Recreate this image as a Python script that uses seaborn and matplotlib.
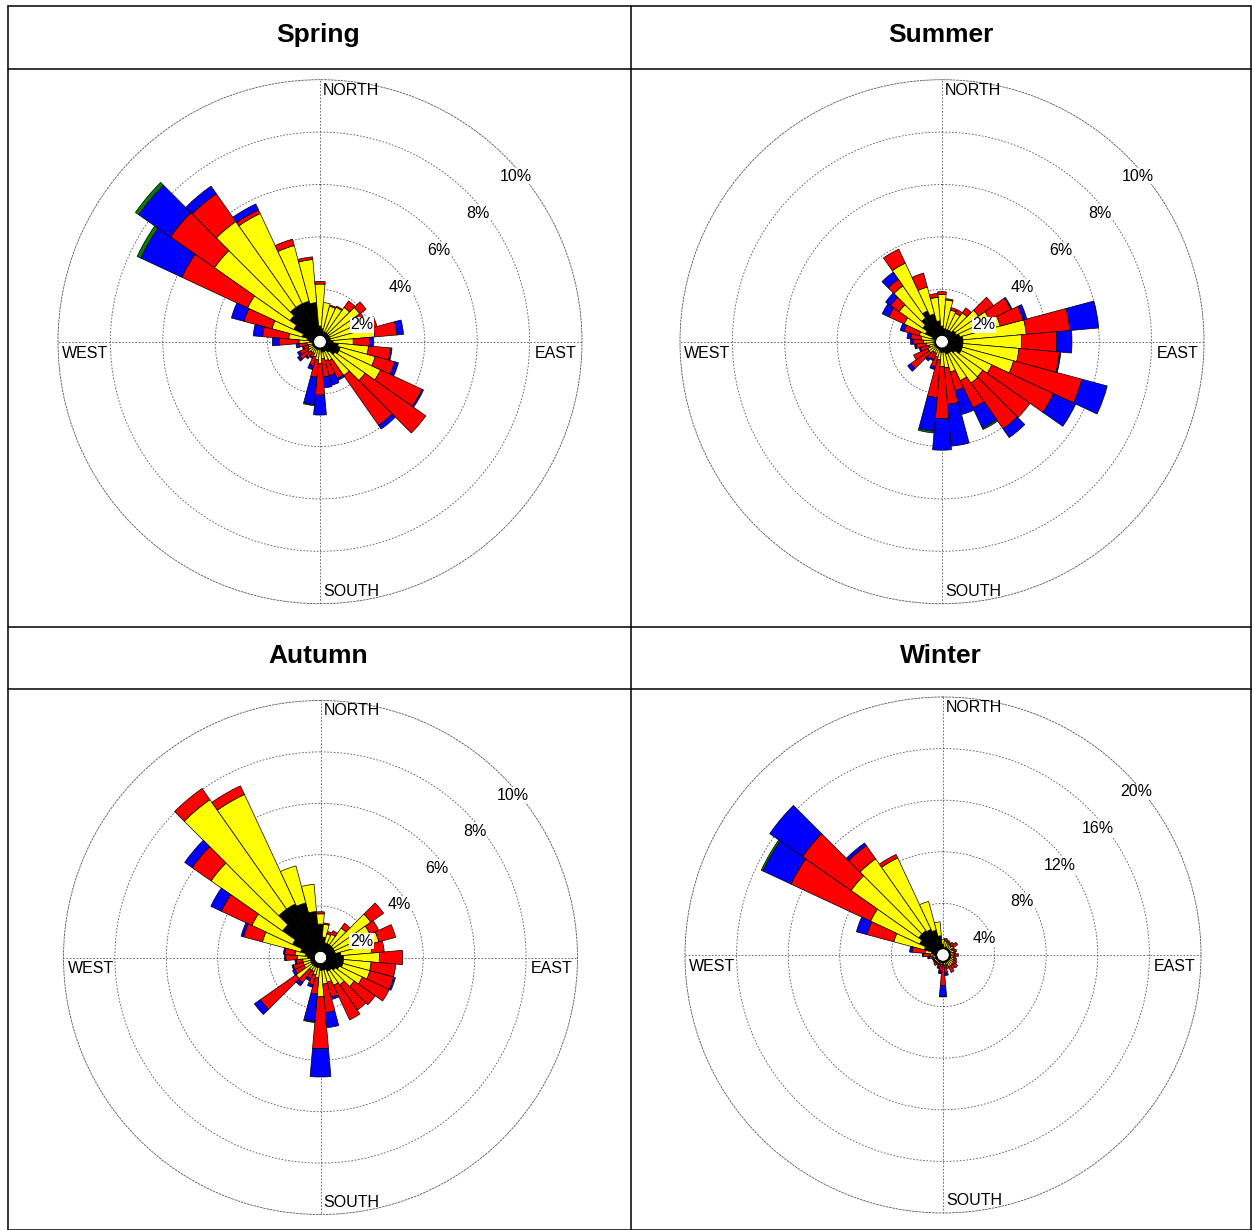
import numpy as np
import matplotlib
matplotlib.use("Agg")
import matplotlib.pyplot as plt
import seaborn as sns
from matplotlib.lines import Line2D
from matplotlib.patches import Circle

# wind directions (degrees, centre of each 10 degree sector)
DIRECTIONS = np.arange(0, 360, 10)

# cumulative frequency (%) up to each speed class, per direction
# class 1 = black, 2 = yellow, 3 = red, 4 = blue, 5 = green
spring_1 = [0.6, 0.5, 0.4, 0.4, 0.4, 0.4, 0.4, 0.4, 0.4, 0.5, 0.7, 0.8, 0.8, 0.7, 0.5, 0.4, 0.4, 0.4,
            0.3, 0.3, 0.3, 0.3, 0.3, 0.3, 0.3, 0.3, 0.3, 0.4, 0.5, 0.7, 1.1, 1.4, 1.6, 1.6, 1.6, 1.5]
spring_2 = [2.2, 1.5, 1.4, 1.45, 1.6, 1.85, 1.7, 1.9, 2.1, 1.27, 1.86, 2.18, 2.55, 2.1, 1.58, 0.8, 0.75, 0.65,
            0.83, 0.7, 0.6, 0.5, 0.5, 0.55, 0.5, 0.45, 0.5, 0.8, 1.2, 1.9, 3.05, 4.92, 5.6, 5.4, 3.8, 3.15]
spring_3 = [2.3, 1.5, 1.45, 1.5, 1.9, 2.15, 1.9, 2.25, 2.95, 1.9, 2.71, 2.95, 4.3, 4.93, 3.9, 1.55, 1.35, 1.35,
            2.04, 1.36, 0.95, 0.65, 0.75, 0.95, 0.85, 0.65, 0.8, 1.57, 2.2, 3.0, 5.82, 6.97, 6.9, 5.55, 4.05, 3.25]
spring_4 = [2.3, 1.5, 1.45, 1.5, 1.9, 2.15, 1.9, 2.25, 3.2, 2.05, 2.76, 3.1, 4.36, 4.93, 4.07, 1.63, 1.72, 1.77,
            2.8, 2.41, 1.1, 0.7, 0.8, 1.05, 0.95, 0.7, 0.92, 1.82, 2.56, 3.5, 7.55, 8.45, 7.25, 5.8, 4.05, 3.25]
spring_5 = [2.3, 1.5, 1.45, 1.5, 1.9, 2.15, 1.9, 2.25, 3.2, 2.05, 2.76, 3.1, 4.36, 4.93, 4.07, 1.63, 1.72, 1.77,
            2.8, 2.45, 1.1, 0.7, 0.8, 1.05, 0.95, 0.7, 0.92, 1.82, 2.56, 3.5, 7.7, 8.6, 7.25, 5.8, 4.05, 3.25]

summer_1 = [0.6, 0.5, 0.5, 0.5, 0.5, 0.6, 0.6, 0.7, 0.8, 0.8, 0.8, 0.8, 0.8, 0.6, 0.5, 0.5, 0.5, 0.4,
            0.4, 0.4, 0.3, 0.3, 0.3, 0.3, 0.3, 0.3, 0.3, 0.3, 0.3, 0.4, 0.7, 0.9, 1.1, 1.3, 1.1, 0.8]
summer_2 = [1.8, 1.6, 1.25, 1.2, 1.35, 1.7, 2.0, 2.3, 3.23, 3.04, 2.95, 2.83, 2.1, 1.9, 1.93, 1.64, 1.2, 1.0,
            0.95, 0.7, 0.6, 0.5, 0.5, 0.6, 0.6, 0.5, 0.6, 0.7, 0.8, 0.9, 1.6, 2.0, 2.6, 3.31, 2.16, 1.7]
summer_3 = [1.91, 1.65, 1.35, 1.35, 1.58, 2.4, 2.9, 3.2, 4.9, 4.38, 4.5, 5.53, 4.7, 4.1, 4.06, 2.79, 1.94, 2.4,
            2.93, 2.14, 1.0, 0.75, 0.8, 1.45, 1.2, 0.85, 1.0, 1.1, 1.2, 1.5, 2.25, 2.4, 2.91, 3.9, 2.71, 1.85]
summer_4 = [1.91, 1.65, 1.35, 1.35, 1.58, 2.4, 2.95, 3.35, 6.0, 4.96, 4.55, 6.53, 5.63, 4.1, 4.47, 3.64, 2.88, 4.0,
            4.14, 3.43, 1.1, 0.8, 0.9, 1.6, 1.2, 0.9, 1.05, 1.2, 1.34, 1.65, 2.52, 2.63, 3.24, 3.9, 2.71, 1.85]
summer_5 = [1.91, 1.65, 1.35, 1.35, 1.58, 2.4, 2.95, 3.35, 6.0, 4.96, 4.55, 6.53, 5.63, 4.1, 4.47, 3.7, 2.88, 4.0,
            4.14, 3.5, 1.1, 0.8, 0.9, 1.6, 1.2, 0.9, 1.05, 1.2, 1.34, 1.65, 2.52, 2.63, 3.24, 3.9, 2.71, 1.85]

autumn_1 = [1.3, 0.8, 0.6, 0.6, 0.6, 0.6, 0.6, 0.6, 0.8, 0.9, 0.9, 0.9, 0.8, 0.7, 0.6, 0.6, 0.5, 0.5,
            0.5, 0.4, 0.4, 0.4, 0.4, 0.4, 0.4, 0.4, 0.4, 0.5, 0.6, 0.8, 1.2, 1.8, 2.3, 2.3, 2.2, 1.8]
autumn_2 = [1.7, 1.3, 0.95, 1.0, 1.4, 2.39, 2.13, 2.35, 2.0, 2.3, 1.98, 1.99, 1.8, 1.6, 1.3, 1.2, 1.0, 1.04,
            1.53, 0.8, 0.7, 0.6, 0.6, 1.16, 0.7, 0.7, 0.7, 0.9, 1.0, 2.34, 2.95, 5.2, 7.5, 7.0, 3.69, 2.86]
autumn_3 = [1.78, 1.35, 1.05, 1.15, 1.63, 3.0, 2.5, 3.03, 2.49, 3.2, 2.94, 2.95, 2.95, 2.6, 2.5, 2.68, 1.6, 2.15,
            3.55, 1.43, 1.1, 0.9, 1.2, 2.86, 1.1, 1.1, 0.95, 1.35, 1.4, 3.1, 4.26, 6.1, 8.03, 7.37, 3.69, 2.86]
autumn_4 = [1.78, 1.35, 1.05, 1.15, 1.63, 3.0, 2.5, 3.03, 2.49, 3.2, 2.94, 3.02, 2.95, 2.6, 2.5, 2.68, 1.69, 2.74,
            4.65, 2.5, 1.2, 1.0, 1.35, 3.14, 1.2, 1.15, 1.0, 1.4, 1.45, 3.2, 4.71, 6.45, 8.03, 7.37, 3.69, 2.86]
autumn_5 = [1.78, 1.35, 1.05, 1.15, 1.63, 3.0, 2.5, 3.03, 2.49, 3.2, 2.94, 3.02, 2.95, 2.6, 2.5, 2.68, 1.69, 2.74,
            4.65, 2.54, 1.2, 1.0, 1.35, 3.14, 1.2, 1.15, 1.0, 1.4, 1.45, 3.2, 4.71, 6.45, 8.03, 7.37, 3.69, 2.86]

winter_1 = [0.8, 0.6, 0.6, 0.6, 0.6, 0.6, 0.6, 0.6, 0.6, 0.6, 0.6, 0.6, 0.6, 0.6, 0.6, 0.6, 0.6, 0.6,
            0.6, 0.6, 0.6, 0.6, 0.6, 0.6, 0.6, 0.6, 0.6, 0.7, 0.9, 1.5, 2.0, 2.3, 2.3, 2.2, 2.0, 1.5]
winter_2 = [1.2, 1.1, 1.0, 0.9, 0.9, 1.0, 0.8, 0.9, 0.8, 0.9, 0.8, 0.9, 0.9, 1.0, 1.0, 1.0, 0.8, 0.8,
            0.7, 0.75, 0.75, 0.75, 0.75, 0.75, 0.75, 0.75, 0.8, 1.0, 1.4, 3.95, 6.2, 8.7, 9.1, 8.3, 4.3, 2.58]
winter_3 = [1.2, 1.3, 1.2, 1.1, 1.2, 1.4, 1.0, 1.1, 1.0, 1.2, 1.0, 1.1, 1.2, 1.4, 1.3, 1.5, 1.1, 1.4,
            2.37, 1.2, 1.0, 0.9, 1.0, 0.9, 0.85, 0.9, 1.1, 1.5, 2.4, 6.1, 13.0, 13.3, 10.35, 8.6, 4.3, 2.58]
winter_4 = [1.2, 1.3, 1.2, 1.1, 1.2, 1.4, 1.0, 1.1, 1.0, 1.2, 1.0, 1.1, 1.2, 1.4, 1.3, 1.5, 1.1, 1.6,
            3.2, 1.4, 1.1, 0.9, 1.0, 0.9, 0.85, 0.9, 1.2, 1.6, 2.6, 6.95, 15.4, 16.4, 10.6, 8.6, 4.3, 2.58]
winter_5 = [1.2, 1.3, 1.2, 1.1, 1.2, 1.4, 1.0, 1.1, 1.0, 1.2, 1.0, 1.1, 1.2, 1.4, 1.3, 1.5, 1.1, 1.6,
            3.25, 1.45, 1.1, 0.9, 1.0, 0.9, 0.85, 0.9, 1.2, 1.6, 2.6, 6.95, 15.55, 16.4, 10.6, 8.6, 4.3, 2.58]

SEASONS = ["Spring", "Summer", "Autumn", "Winter"]
SEASON_RMAX = [10, 10, 10, 20]
CLASS_COLOURS = sns.color_palette(["#000000", "#ffff00", "#ff0000", "#0000ff", "#007f00"])

sns.set_theme(style="white")
plt.rcParams["font.family"] = ["Liberation Sans", "DejaVu Sans"]
plt.rcParams["text.color"] = "black"

W, H = 1252, 1230
fig = plt.figure(figsize=(W / 100, H / 100), dpi=100)


def hline(x0, x1, y):
    fig.add_artist(Line2D([x0 / W, x1 / W], [1 - y / H, 1 - y / H],
                          transform=fig.transFigure, color="black", lw=1.1))


def vline(x, y0, y1):
    fig.add_artist(Line2D([x / W, x / W], [1 - y0 / H, 1 - y1 / H],
                          transform=fig.transFigure, color="black", lw=1.1))


# table frame
for y in (5.5, 68.5, 626.5, 688.5, 1229.5):
    hline(7.5, 1251, y)
for x in (7.5, 630.5, 1250.5):
    vline(x, 5.5, 1230)

title_pos = [(318.5, 35), (941, 35), (318.5, 656), (941, 656)]
for name, (tx, ty) in zip(SEASONS, title_pos):
    fig.text(tx / W, 1 - ty / H, name, ha="center", va="center",
             fontsize=19, fontweight="bold", color="black")


def draw_rose(cx, cy, R, cum, rmax):
    ax = fig.add_axes([(cx - R) / W, 1 - (cy + R) / H, 2 * R / W, 2 * R / H],
                      projection="polar")
    ax.set_theta_zero_location("N")
    ax.set_theta_direction(-1)
    theta = np.deg2rad(DIRECTIONS)
    hole = 0.024 * rmax
    bottom = np.full(len(theta), hole)
    for values, colour in zip(cum, CLASS_COLOURS):
        values = np.asarray(values, dtype=float)
        height = values - bottom
        keep = height > 1e-9
        ax.bar(theta[keep], height[keep], width=np.deg2rad(10), bottom=bottom[keep],
               color=colour, edgecolor="black", linewidth=0.5, zorder=3)
        bottom = np.maximum(bottom, values)

    # white hole in the middle, hides the grid cross
    ax.add_patch(Circle((0.5, 0.5), 0.5 * hole / rmax, transform=ax.transAxes,
                        facecolor="white", edgecolor="none", zorder=2))

    ax.set_ylim(0, rmax)
    rings = np.linspace(rmax / 5, rmax, 5)
    ax.set_yticks(rings[:-1])
    ax.set_yticklabels([])
    ax.set_xticks(np.deg2rad([0, 90, 180, 270]))
    ax.set_xticklabels([])
    ax.set_axisbelow(True)
    ax.grid(True, color="#555555", linestyle=(0, (2, 2)), linewidth=0.6)
    ax.spines["polar"].set_linestyle((0, (2, 2)))
    ax.spines["polar"].set_linewidth(0.6)
    ax.spines["polar"].set_color("#555555")

    for i, r in enumerate(rings):
        f = (i + 1) / 5
        ax.text(0.507 + 0.367 * f, 0.461 + 0.355 * f, f"{r:g}%", transform=ax.transAxes,
                ha="center", va="center", fontsize=11.5, zorder=6,
                bbox=dict(facecolor="white", edgecolor="none", pad=0.6))

    ax.text(0.506, 0.980, "NORTH", transform=ax.transAxes, ha="left", va="center", fontsize=11.5)
    ax.text(0.990, 0.478, "EAST", transform=ax.transAxes, ha="right", va="center", fontsize=11.5)
    ax.text(0.008, 0.478, "WEST", transform=ax.transAxes, ha="left", va="center", fontsize=11.5)
    ax.text(0.506, 0.024, "SOUTH", transform=ax.transAxes, ha="left", va="center", fontsize=11.5)
    return ax


centres = [(320, 341.7, 262), (942, 341.7, 262), (320.5, 957.5, 257), (943, 955, 258)]
season_data = [
    [spring_1, spring_2, spring_3, spring_4, spring_5],
    [summer_1, summer_2, summer_3, summer_4, summer_5],
    [autumn_1, autumn_2, autumn_3, autumn_4, autumn_5],
    [winter_1, winter_2, winter_3, winter_4, winter_5],
]
for (cx, cy, R), cum, rmax in zip(centres, season_data, SEASON_RMAX):
    draw_rose(cx, cy, R, cum, rmax)

fig.savefig("out.png", dpi=100, facecolor="white")
